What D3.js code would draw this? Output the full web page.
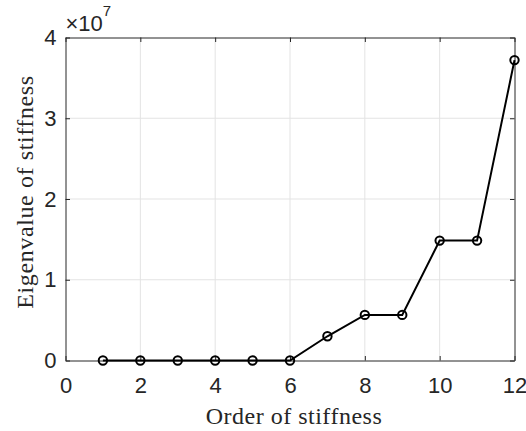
<!DOCTYPE html>
<html>
<head>
<meta charset="utf-8">
<script src="https://d3js.org/d3.v7.min.js"></script>
<style>
  body { margin: 0; background: #fff; }
  svg { display: block; }
</style>
</head>
<body>
<div id="chart"></div>
<script>
var order = [1, 2, 3, 4, 5, 6, 7, 8, 9, 10, 11, 12];
var eigen = [0, 0, 0, 0, 0, 0, 0.30e7, 0.565e7, 0.565e7, 1.485e7, 1.485e7, 3.72e7];
var xTicks = [0, 2, 4, 6, 8, 10, 12];
var yTicks = [0, 1e7, 2e7, 3e7, 4e7];

var W = 526, H = 431;
var m = { left: 65.5, right: 11.5, top: 37.5, bottom: 70.5 };

var svg = d3.select("#chart").append("svg")
    .attr("width", W)
    .attr("height", H);

var x = d3.scaleLinear().domain([0, 12]).range([m.left, W - m.right]);
var y = d3.scaleLinear().domain([0, 4e7]).range([H - m.bottom, m.top]);

// grid
svg.append("g").selectAll("line.gx")
    .data(xTicks.slice(1, -1))
    .enter().append("line")
    .attr("x1", d => x(d)).attr("x2", d => x(d))
    .attr("y1", y(0)).attr("y2", y(4e7))
    .style("stroke", "#e3e3e3").style("stroke-width", 1);
svg.append("g").selectAll("line.gy")
    .data(yTicks.slice(1, -1))
    .enter().append("line")
    .attr("x1", x(0)).attr("x2", x(12))
    .attr("y1", d => y(d)).attr("y2", d => y(d))
    .style("stroke", "#e3e3e3").style("stroke-width", 1);

var tickFont = "'Liberation Sans', Arial, sans-serif";

// axes
var xAxis = svg.append("g")
    .attr("transform", "translate(0," + y(0) + ")")
    .call(d3.axisBottom(x).tickValues(xTicks).tickSizeInner(-4.5).tickSizeOuter(0).tickPadding(17));
var xTop = svg.append("g")
    .attr("transform", "translate(0," + y(4e7) + ")")
    .call(d3.axisTop(x).tickValues(xTicks).tickSizeInner(-4.5).tickSizeOuter(0).tickFormat(""));
var yAxis = svg.append("g")
    .attr("transform", "translate(" + x(0) + ",0)")
    .call(d3.axisLeft(y).tickValues(yTicks).tickSizeInner(-4.5).tickSizeOuter(0).tickPadding(9)
        .tickFormat(d => d / 1e7));
var yRight = svg.append("g")
    .attr("transform", "translate(" + x(12) + ",0)")
    .call(d3.axisRight(y).tickValues(yTicks).tickSizeInner(-4.5).tickSizeOuter(0).tickFormat(""));

[xAxis, xTop, yAxis, yRight].forEach(function(g) {
    g.selectAll(".domain").style("stroke", "#262626").style("stroke-width", 1);
    g.selectAll(".tick line").style("stroke", "#262626").style("stroke-width", 1);
    g.selectAll(".tick text")
        .style("font-family", tickFont)
        .style("font-size", "22px")
        .style("fill", "#262626");
});

// line and markers
var line = d3.line()
    .x((d, i) => x(order[i]))
    .y(d => y(d));

svg.append("path")
    .datum(eigen)
    .attr("d", line)
    .style("fill", "none")
    .style("stroke", "#000")
    .style("stroke-width", 2);

svg.append("g").selectAll("circle")
    .data(eigen)
    .enter().append("circle")
    .attr("cx", (d, i) => x(order[i]))
    .attr("cy", d => y(d))
    .attr("r", 4.2)
    .style("fill", "none")
    .style("stroke", "#000")
    .style("stroke-width", 2);

// exponent label
var expo = svg.append("text")
    .attr("x", x(0))
    .attr("y", 31)
    .style("font-family", tickFont)
    .style("font-size", "22px")
    .style("fill", "#262626");
expo.append("tspan").text("\u00d710");
expo.append("tspan").attr("dy", -15).style("font-size", "15px").text("7");

// axis labels
var labFont = "'Liberation Serif', 'Times New Roman', serif";
svg.append("text")
    .attr("x", 294)
    .attr("y", 424)
    .attr("text-anchor", "middle")
    .style("font-family", labFont)
    .style("font-size", "24px")
    .style("letter-spacing", "0.5px")
    .style("fill", "#262626")
    .text("Order of stiffness");

svg.append("text")
    .attr("transform", "translate(33,192) rotate(-90)")
    .attr("text-anchor", "middle")
    .style("font-family", labFont)
    .style("font-size", "24px")
    .style("letter-spacing", "0.6px")
    .style("fill", "#262626")
    .text("Eigenvalue of stiffness");
</script>
</body>
</html>
